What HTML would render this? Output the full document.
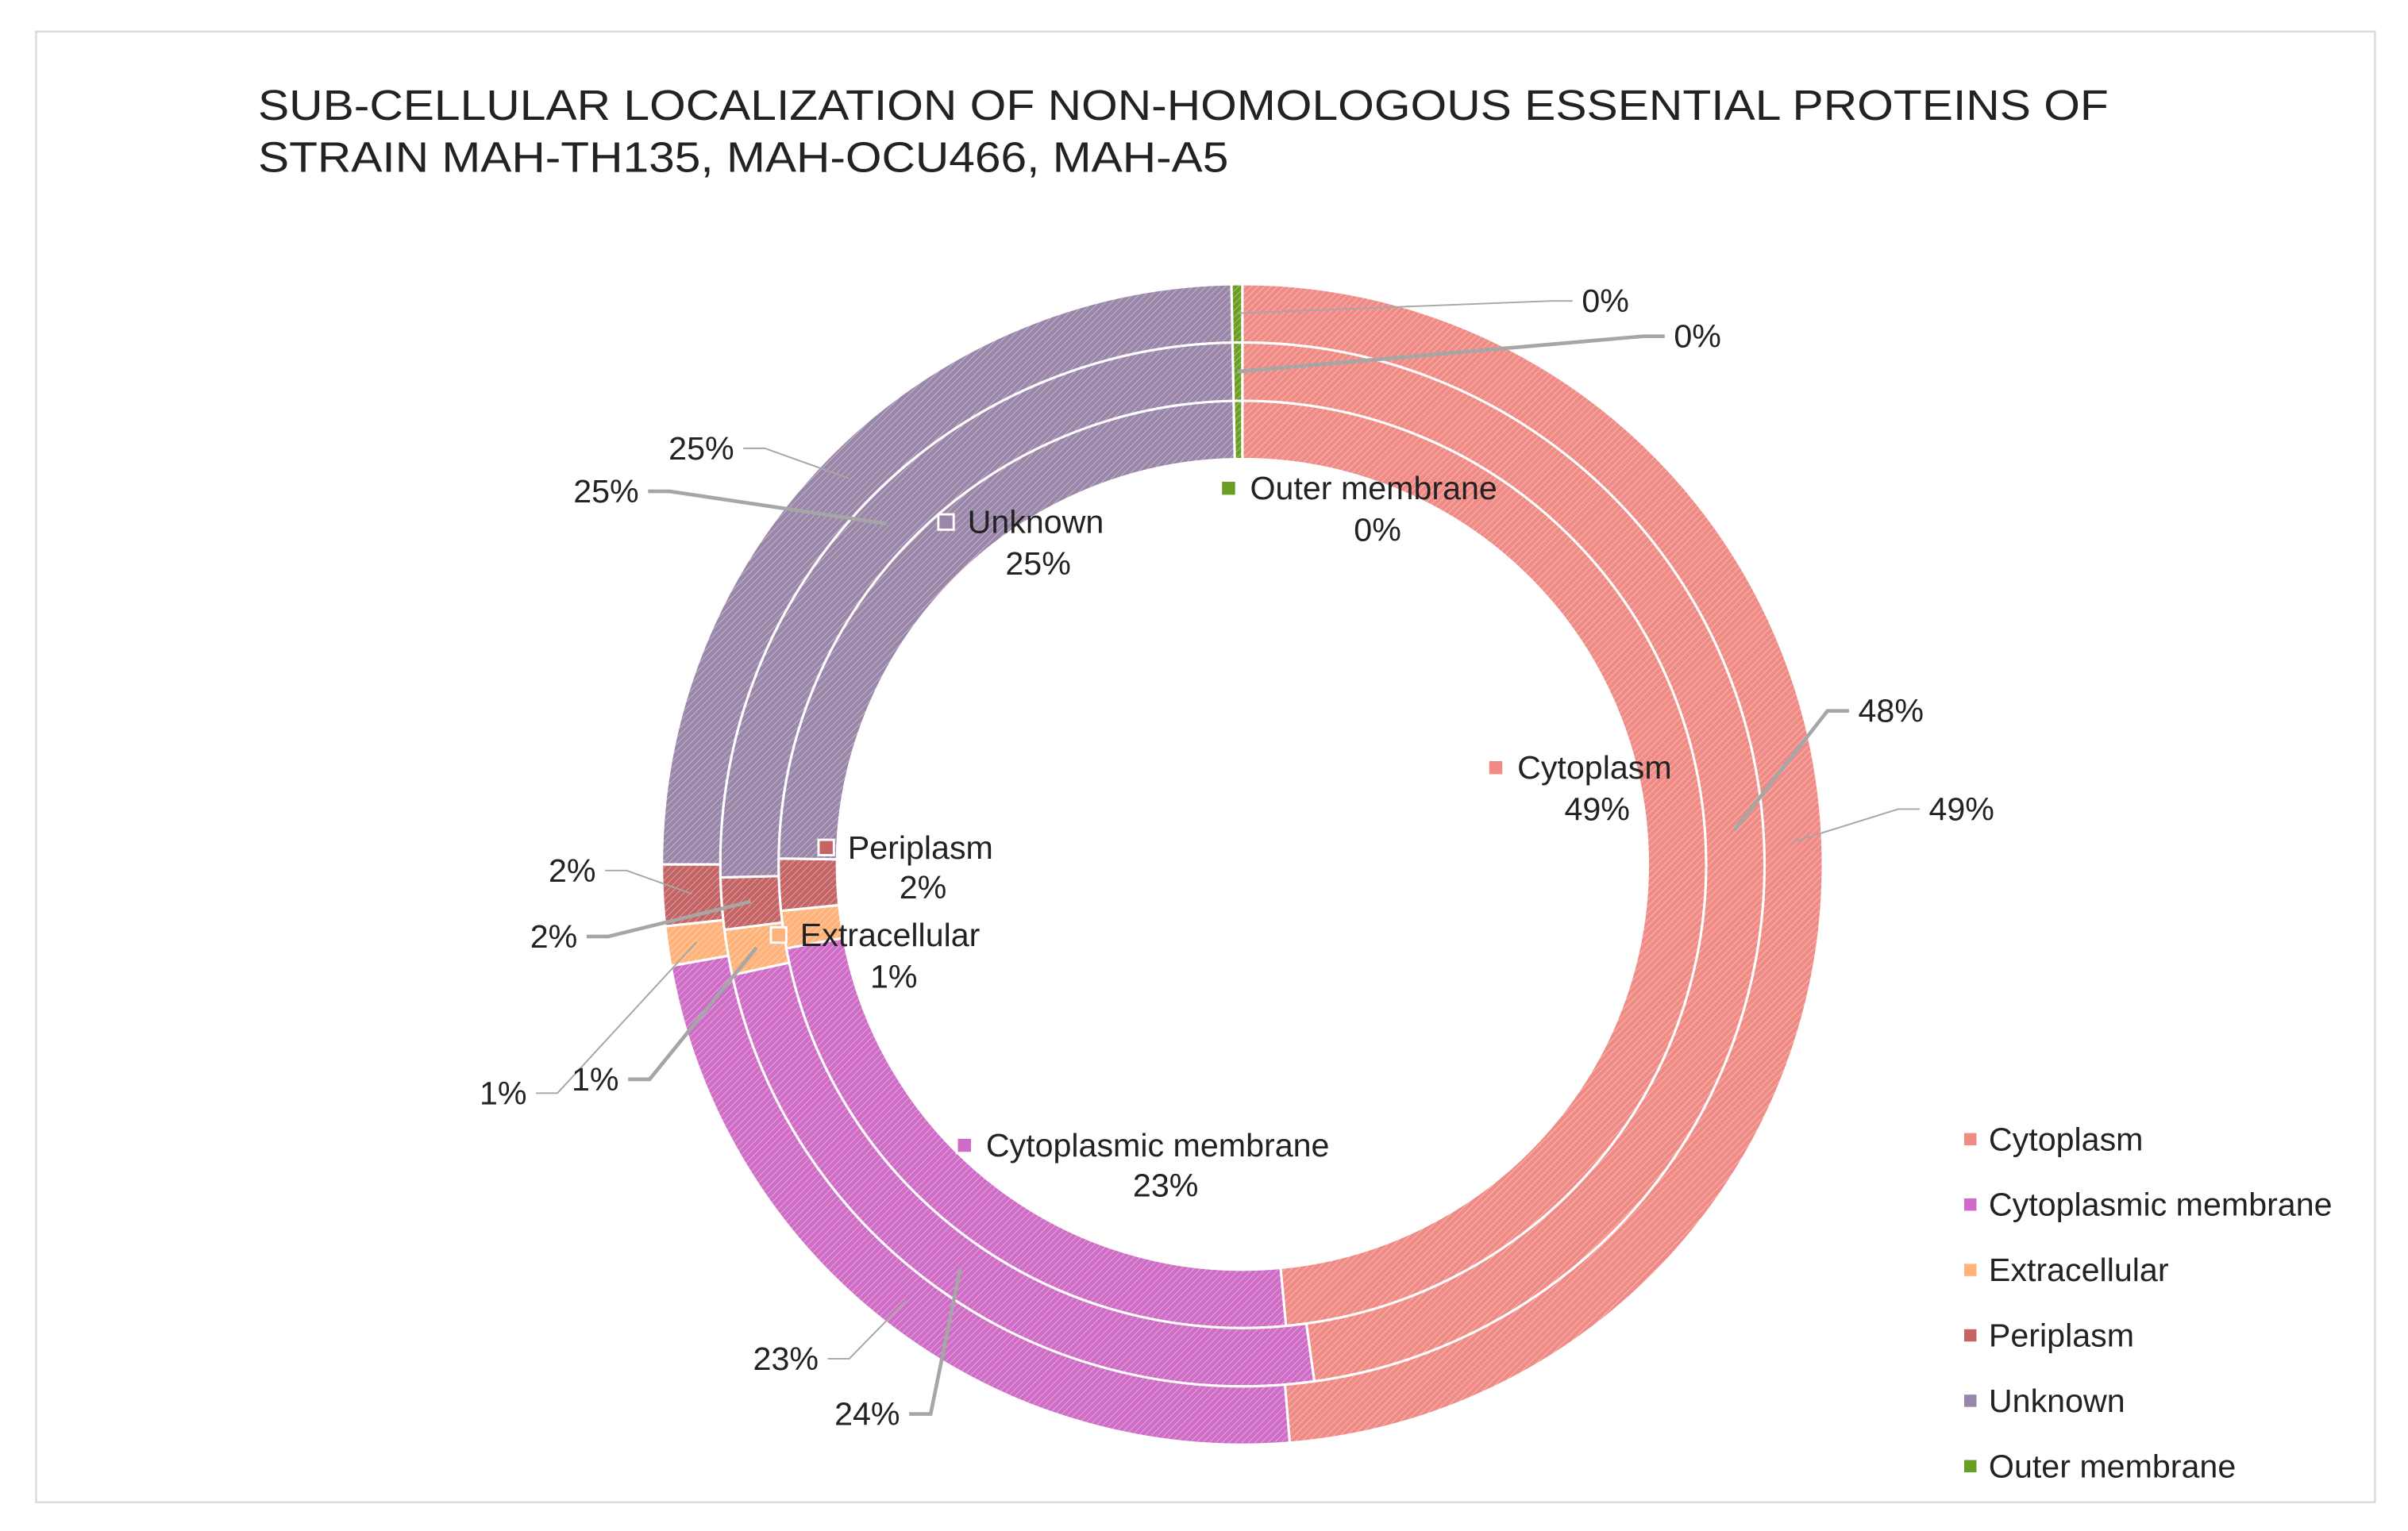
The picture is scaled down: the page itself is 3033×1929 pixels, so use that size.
<!DOCTYPE html>
<html><head><meta charset="utf-8"><style>
html,body{margin:0;padding:0;background:#fff;}
svg{display:block;font-family:"Liberation Sans",Arial,sans-serif;}
</style></head><body>
<svg id="chart" width="3033" height="1929" viewBox="0 0 1568 997.2" xmlns="http://www.w3.org/2000/svg">
<defs>
<pattern id="hatch" patternUnits="userSpaceOnUse" width="3" height="3" patternTransform="rotate(45)">
<rect width="3" height="3" fill="none"/><line x1="0" y1="0" x2="0" y2="3" stroke="#fff" stroke-width="0.9" stroke-opacity="0.45"/>
</pattern>
</defs>
<rect x="23.5" y="20.5" width="1523" height="958" fill="#fff" stroke="#d9d9d9" stroke-width="1.2"/>
<text font-size="28" fill="#222" x="168" y="78" textLength="1205" lengthAdjust="spacingAndGlyphs">SUB-CELLULAR LOCALIZATION OF NON-HOMOLOGOUS ESSENTIAL PROTEINS OF</text>
<text font-size="28" fill="#222" x="168" y="112" textLength="632" lengthAdjust="spacingAndGlyphs">STRAIN MAH-TH135, MAH-OCU466, MAH-A5</text>
<g id="rings"></g>
<g id="leaders"></g>
<g id="labels"></g>
<g id="legend"></g>
</svg>
<script>
const categories = ["Cytoplasm","Cytoplasmic membrane","Extracellular","Periplasm","Unknown","Outer membrane"];
const innerValues = [48.5, 23.6, 1.3, 1.8, 24.5, 0.3];
const middleValues = [47.8, 23.8, 1.4, 1.6, 25.1, 0.3];
const outerValues = [48.7, 23.5, 1.1, 1.7, 24.7, 0.3];
const innerLabels = ["49%","23%","1%","2%","25%","0%"];
const middleLabels = ["48%","24%","1%","2%","25%","0%"];
const outerLabels = ["49%","23%","1%","2%","25%","0%"];
const colors = ["#ef8a84","#cf6cc6","#ffb27a","#c46464","#9a86a8","#6a9e22"];

const NS = "http://www.w3.org/2000/svg";
const CX = 809, CY = 563;
const ringsDef = [
  {name:"inner", vals:innerValues, labs:innerLabels, r0:264, r1:302},
  {name:"middle", vals:middleValues, labs:middleLabels, r0:302, r1:340},
  {name:"outer", vals:outerValues, labs:outerLabels, r0:340, r1:378}
];
function ang(cum, total){ return cum/total*2*Math.PI; }
function pt(a, r){ return [CX + r*Math.sin(a), CY - r*Math.cos(a)]; }
function arcPath(a0,a1,r0,r1){
  const large = (a1-a0) > Math.PI ? 1 : 0;
  const p1=pt(a0,r1), p2=pt(a1,r1), p3=pt(a1,r0), p4=pt(a0,r0);
  return `M${p1[0]},${p1[1]} A${r1},${r1} 0 ${large} 1 ${p2[0]},${p2[1]} L${p3[0]},${p3[1]} A${r0},${r0} 0 ${large} 0 ${p4[0]},${p4[1]} Z`;
}
const gR = document.getElementById('rings');
const mids = {};
ringsDef.forEach(ring=>{
  const total = ring.vals.reduce((a,b)=>a+b,0);
  let cum = 0; mids[ring.name]=[];
  ring.vals.forEach((v,i)=>{
    const a0=ang(cum,total), a1=ang(cum+v,total); cum+=v;
    mids[ring.name].push(pt((a0+a1)/2,(ring.r0+ring.r1)/2));
    const p=document.createElementNS(NS,'path');
    p.setAttribute('d',arcPath(a0,a1,ring.r0,ring.r1));
    p.setAttribute('fill',colors[i]);
    p.setAttribute('stroke','#fff'); p.setAttribute('stroke-width','1.6');
    
    
    gR.appendChild(p);
    const h=document.createElementNS(NS,'path');
    h.setAttribute('d',arcPath(a0,a1,ring.r0+0.8,ring.r1-0.8));
    h.setAttribute('fill','url(#hatch)');
    h.setAttribute('pointer-events','none');
    
    
    gR.appendChild(h);
  });
});
const outerLayout = [[1254,527,'start'],[535,885,'end'],[345,712,'end'],[390,567,'end'],[480,292,'end'],[1028,196,'start']];
const middleLayout = [[1208,463,'start'],[588,921,'end'],[405,703,'end'],[378,610,'end'],[418,320,'end'],[1088,219,'start']];
const gL=document.getElementById('leaders'), gT=document.getElementById('labels');
function addText(x,y,s,anchor,name,size){
  const t=document.createElementNS(NS,'text');
  t.setAttribute('x',x); t.setAttribute('y',y); t.setAttribute('text-anchor',anchor);
  t.setAttribute('dominant-baseline','central'); t.setAttribute('font-size',size||21.3); t.setAttribute('fill','#222');
  t.textContent=s;
  
  
  gT.appendChild(t);
}
[['outer',outerLayout,1],['middle',middleLayout,2.4]].forEach(([nm,lay,w])=>{
  const ring = ringsDef.find(r=>r.name===nm);
  lay.forEach((l,i)=>{
    const m=mids[nm][i];
    const ex = l[2]==='start' ? l[0]-4 : l[0]+4;
    const kx = l[2]==='start' ? ex-14 : ex+14;
    const pl=document.createElementNS(NS,'polyline');
    pl.setAttribute('points',`${m[0]},${m[1]} ${kx},${l[1]} ${ex},${l[1]}`);
    pl.setAttribute('fill','none'); pl.setAttribute('stroke','#a6a6a6'); pl.setAttribute('stroke-width',w);
    
    
    gL.appendChild(pl);
    addText(l[2]==='start'?l[0]+2:l[0]-2,l[1],ring.labs[i],l[2],nm+'-data-label');
  });
});
const innerLayout = [[988,500,1040,527],[642,746,759,772],[521,609,582,636],[552,552,601,578],[630,340,676,367],[814,318,897,345]];
innerLayout.forEach((l,i)=>{
  const r=document.createElementNS(NS,'rect');
  r.setAttribute('x',l[0]-19); r.setAttribute('y',l[1]-5); r.setAttribute('width',10); r.setAttribute('height',10);
  r.setAttribute('fill',colors[i]); r.setAttribute('stroke','#fff'); r.setAttribute('stroke-width','1.5');
  
  
  gT.appendChild(r);
  addText(l[0],l[1],categories[i],'start','inner-category-label');
  addText(l[2],l[3],innerLabels[i],'middle','inner-data-label');
});
const gG=document.getElementById('legend');
categories.forEach((c,i)=>{
  const y=742+i*42.6;
  const r=document.createElementNS(NS,'rect');
  r.setAttribute('x',1279); r.setAttribute('y',y-4); r.setAttribute('width',8); r.setAttribute('height',8);
  r.setAttribute('fill',colors[i]);
  
  
  gG.appendChild(r);
  const t=document.createElementNS(NS,'text');
  t.setAttribute('x',1295); t.setAttribute('y',y); t.setAttribute('dominant-baseline','central');
  t.setAttribute('font-size',21.3); t.setAttribute('fill','#222'); t.textContent=c;
  
  
  gG.appendChild(t);
});
</script>
</body></html>
